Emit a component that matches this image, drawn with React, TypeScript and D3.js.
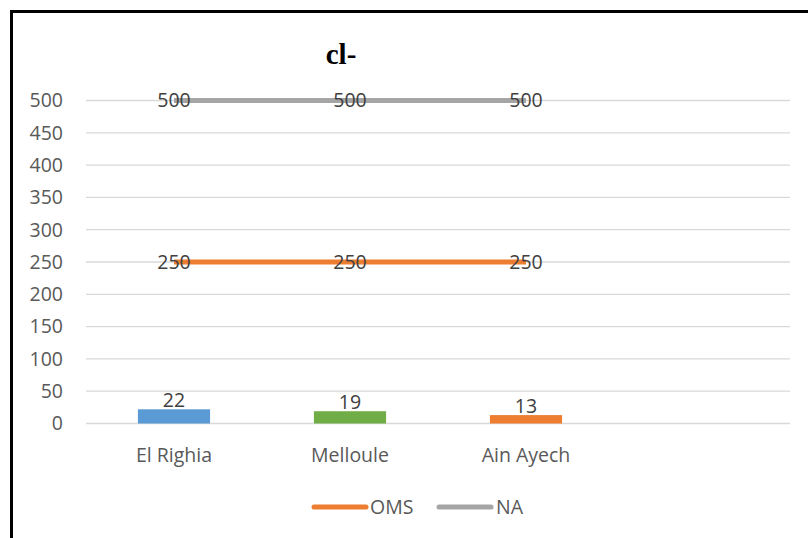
import React from "react";
import * as d3 from "d3";

const categories = ["El Righia", "Melloule", "Ain Ayech", ""];
const barValues = [22, 19, 13];
const barColors = ["#5B9BD5", "#70AD47", "#ED7D31"];
const omsValues = [250, 250, 250];
const naValues = [500, 500, 500];
const yTicks = [0, 50, 100, 150, 200, 250, 300, 350, 400, 450, 500];
const title = "cl-";

const W = 808, H = 538;
const font = "'Open Sans', 'Liberation Sans', sans-serif";
const fs = 19.5;

export default function App() {
  const x = d3.scaleBand<string>().domain(categories.map((c, i) => c + i)).range([86, 790]).paddingInner(0.59).paddingOuter(0.295);
  const y = d3.scaleLinear().domain([0, 500]).range([423.5, 100.5]);
  const cx = (i: number) => (x(categories[i] + i) as number) + x.bandwidth() / 2;
  const line = d3.line<number>().x((_, i) => cx(i)).y(d => y(d));
  return (
    <svg width={W} height={H} style={{ position: "absolute", left: 0, top: 0, background: "#fff" }}>
      <rect x={11.5} y={11.5} width={W} height={H} fill="#fff" stroke="#000" strokeWidth={3} />
      <text x={341} y={64} textAnchor="middle" fontFamily="'Liberation Serif', 'Times New Roman', serif" fontWeight="bold" fontSize={29} fill="#000">{title}</text>
      {yTicks.map(t => (
        <g key={t}>
          <line x1={86} x2={790} y1={y(t)} y2={y(t)} stroke="#D9D9D9" strokeWidth={1.3} />
          <text x={63} y={y(t)} dy="0.35em" textAnchor="end" fontFamily={font} fontSize={fs} fill="#595959">{t}</text>
        </g>
      ))}
      {barValues.map((v, i) => (
        <g key={i}>
          <rect x={x(categories[i] + i)} width={x.bandwidth()} y={y(v)} height={y(0) - y(v)} fill={barColors[i]} />
          <text x={cx(i)} y={y(v) - 2} textAnchor="middle" fontFamily={font} fontSize={fs} fill="#404040">{v}</text>
        </g>
      ))}
      {categories.map((c, i) => (
        <text key={i} x={cx(i)} y={462} textAnchor="middle" fontFamily={font} fontSize={fs} fill="#595959">{c}</text>
      ))}
      <path d={line(naValues) || ""} fill="none" stroke="#A5A5A5" strokeWidth={5} />
      <path d={line(omsValues) || ""} fill="none" stroke="#ED7D31" strokeWidth={5} />
      {naValues.map((v, i) => (
        <text key={"na" + i} x={cx(i)} y={y(v)} dy="0.35em" textAnchor="middle" fontFamily={font} fontSize={fs} fill="#404040">{v}</text>
      ))}
      {omsValues.map((v, i) => (
        <text key={"oms" + i} x={cx(i)} y={y(v)} dy="0.35em" textAnchor="middle" fontFamily={font} fontSize={fs} fill="#404040">{v}</text>
      ))}
      <line x1={314} x2={366} y1={507} y2={507} stroke="#ED7D31" strokeWidth={5} strokeLinecap="round" />
      <text x={370} y={507} dy="0.35em" fontFamily={font} fontSize={fs} fill="#595959">OMS</text>
      <line x1={439} x2={491} y1={507} y2={507} stroke="#A5A5A5" strokeWidth={5} strokeLinecap="round" />
      <text x={496} y={507} dy="0.35em" fontFamily={font} fontSize={fs} fill="#595959">NA</text>
    </svg>
  );
}
